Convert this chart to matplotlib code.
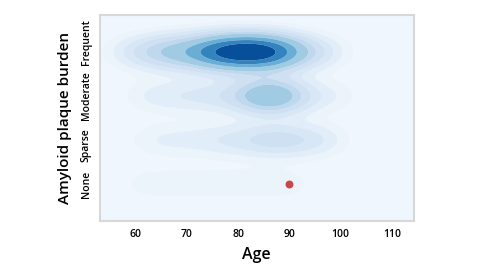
import numpy as np
import matplotlib
matplotlib.use("Agg")
import matplotlib.pyplot as plt

# ages per plaque burden level
burden_labels = ["None", "Sparse", "Moderate", "Frequent"]
none_ages = [62, 69, 76, 83, 90]
sparse_ages = [63, 68, 73, 77, 80, 83, 85, 87, 88, 90, 92, 95, 97]
moderate_ages = [62, 66, 70, 73, 76, 79, 81, 83, 84, 85, 85, 86, 86, 86, 87,
                 87, 88, 88, 89, 91, 94, 99]
frequent_ages = [58, 61, 63, 64, 65, 66, 67, 68, 69, 70, 71, 72, 73, 73, 74,
                 74, 75, 75, 76, 76, 77, 77, 77, 78, 78, 78, 79, 79, 79, 80,
                 80, 80, 81, 81, 81, 82, 82, 82, 83, 83, 83, 84, 84, 84, 85,
                 85, 85, 86, 86, 86, 87, 87, 87, 88, 88, 89, 89, 90, 91, 92,
                 93, 95, 98]
# highlighted patient
patient_age = 90
patient_burden = 0

ages = np.array(none_ages + sparse_ages + moderate_ages + frequent_ages, float)
codes = np.array([0] * len(none_ages) + [1] * len(sparse_ages)
                 + [2] * len(moderate_ages) + [3] * len(frequent_ages), float)

# 2D gaussian kde with separate bandwidths
hx, hy = 4.0, 0.27
gx = np.linspace(53, 114.3, 300)
gy = np.linspace(-0.84, 3.84, 240)
X, Y = np.meshgrid(gx, gy)
Z = np.zeros_like(X)
for a, c in zip(ages, codes):
    Z += np.exp(-0.5 * ((X - a) / hx) ** 2 - 0.5 * ((Y - c) / hy) ** 2)
Z /= Z.max()

level_fracs = [0.03, 0.06, 0.1, 0.15, 0.22, 0.3, 0.45, 0.6, 0.78, 1.001]
band_colors = plt.cm.Blues([0.06, 0.11, 0.16, 0.21, 0.27, 0.37, 0.5, 0.68, 0.88])

fig = plt.figure(figsize=(4.8, 2.7), dpi=100)
ax = fig.add_axes([0.208, 0.182, 0.654, 0.762])
ax.set_facecolor("#f0f6fd")
ax.contourf(X, Y, Z, levels=level_fracs, colors=band_colors, antialiased=True)
ax.scatter([patient_age], [patient_burden], s=22, color="#c8474a", zorder=5)

ax.set_xlim(53, 114.3)
ax.set_ylim(-0.84, 3.84)
ax.set_xticks([60, 70, 80, 90, 100, 110])
ax.set_yticks([0, 0.88, 2.0, 3.23])
ax.set_yticklabels(burden_labels, rotation=90, va="center")
ax.tick_params(length=0, labelsize=7.5, pad=6)
for lab in ax.get_xticklabels() + ax.get_yticklabels():
    lab.set_fontfamily("Open Sans")
    lab.set_fontweight("semibold")
ax.set_xlabel("Age", fontsize=11.5, fontfamily="Open Sans", fontweight="semibold", labelpad=5)
ax.set_ylabel("Amyloid plaque burden", fontsize=11, fontfamily="Open Sans",
              fontweight="semibold", labelpad=6)
for s in ax.spines.values():
    s.set_color("#d8d8d8")
    s.set_linewidth(1.5)

fig.savefig("out.png", dpi=100)
